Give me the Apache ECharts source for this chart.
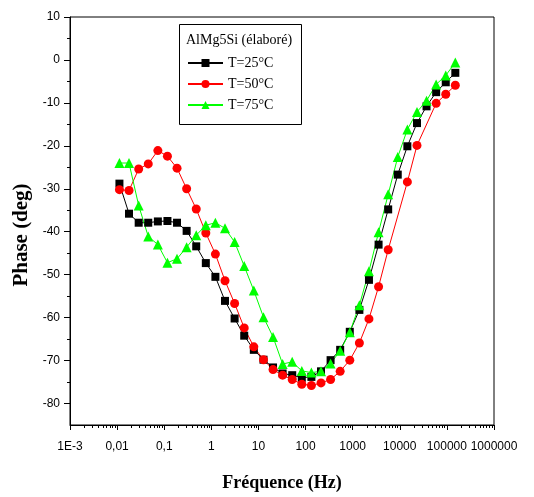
<!DOCTYPE html>
<html>
<head>
<meta charset="utf-8">
<script src="https://cdn.jsdelivr.net/npm/echarts@6/dist/echarts.min.js"></script>
<style>
html,body{margin:0;padding:0;background:#fff;}
#chart{width:534px;height:497px;}
</style>
</head>
<body>
<div id="chart"></div>
<script>
// Frequencies (Hz)
const freqs = [0.0112, 0.0179, 0.0287, 0.0458, 0.0733, 0.117, 0.187, 0.299, 0.478, 0.764,
  1.22, 1.95, 3.12, 4.99, 7.98, 12.8, 20.4, 32.6, 52.1, 83.2,
  133, 213, 340, 543, 869, 1389, 2218, 3548, 5675, 9057,
  14488, 23174, 36983, 59156, 94624, 151008];

// Phase (deg)
const phase25 = [-28.8, -35.8, -37.9, -37.9, -37.6, -37.5, -37.9, -39.8, -43.4, -47.3,
  -50.5, -56.1, -60.2, -64.2, -67.5, -69.8, -71.6, -73.0, -73.4, -74.0,
  -73.8, -72.5, -69.9, -67.5, -63.3, -58.2, -51.2, -43.0, -34.8, -26.7,
  -20.1, -14.7, -10.8, -7.5, -5.2, -3.0];
const phase50 = [-30.2, -30.4, -25.4, -24.2, -21.1, -22.4, -25.2, -30.0, -34.7, -40.3,
  -45.2, -51.4, -56.7, -62.4, -66.8, -69.8, -72.1, -73.4, -74.4, -75.5,
  -75.8, -75.2, -74.4, -72.5, -69.9, -65.9, -60.3, -52.8, -44.2, null,
  -28.4, -19.9, null, -10.1, -8.0, -5.9];
const phase75 = [-24.0, -24.0, -33.9, -41.1, -43.0, -47.2, -46.3, -43.6, -40.8, -38.5,
  -37.9, -39.2, -42.4, -48.0, -53.7, -59.9, -64.5, -70.8, -70.3, -72.4,
  -72.8, -72.5, -70.7, -67.7, -63.4, -57.1, -49.2, -40.1, -31.3, -22.6,
  -16.2, -12.1, -9.5, -5.7, -3.6, -0.6];

const seriesNames = ['T=25°C', 'T=50°C', 'T=75°C'];
const legendTitle = 'AlMg5Si (élaboré)';

// Tick values and labels
const xMajorTicks = [0.001, 0.01, 0.1, 1, 10, 100, 1000, 10000, 100000, 1000000];
const xTickLabels = ['1E-3', '0,01', '0,1', '1', '10', '100', '1000', '10000', '100000', '1000000'];
const xMinorTicks = [];
for (let d = 0; d < xMajorTicks.length - 1; d++) {
  for (let m = 2; m <= 9; m++) xMinorTicks.push(+(xMajorTicks[d] * m).toPrecision(6));
}
const yMajorTicks = [-80, -70, -60, -50, -40, -30, -20, -10, 0, 10];
const yMinorTicks = [-75, -65, -55, -45, -35, -25, -15, -5, 5];

function pairs(vals) {
  return freqs.map((f, i) => [f, vals[i]]);
}
function xLabel(v) {
  let best = 0, bd = Infinity;
  xMajorTicks.forEach((t, i) => {
    const d = Math.abs(Math.log10(t) - Math.log10(v));
    if (d < bd) { bd = d; best = i; }
  });
  return xTickLabels[best];
}

const chart = echarts.init(document.getElementById('chart'), null, {renderer: 'canvas'});
const black = '#000';
const option = {
  backgroundColor: '#fff',
  animation: false,
  grid: {left: 70, right: 40, top: 17, bottom: 68, show: true, borderColor: black, borderWidth: 1, backgroundColor: 'transparent'},
  xAxis: [
    {
      type: 'log', logBase: 10, min: 0.001, max: 1000000, position: 'bottom',
      axisLine: {show: true, onZero: false, lineStyle: {color: black, width: 1}},
      axisTick: {show: true, length: 5, customValues: xMajorTicks, lineStyle: {color: black, width: 1}},
      axisLabel: {show: true, customValues: xMajorTicks, formatter: xLabel, margin: 16,
        fontFamily: 'Liberation Sans', fontSize: 12, color: black},
      splitLine: {show: false}, minorTick: {show: false},
      name: 'Fréquence (Hz)', nameLocation: 'middle', nameGap: 49,
      nameTextStyle: {fontFamily: 'Liberation Serif', fontWeight: 'bold', fontSize: 18, color: black}
    },
    {
      type: 'log', logBase: 10, min: 0.001, max: 1000000, position: 'bottom',
      axisLine: {show: false, onZero: false},
      axisTick: {show: true, length: 3, customValues: xMinorTicks, lineStyle: {color: black, width: 1}},
      axisLabel: {show: false}, splitLine: {show: false}
    }
  ],
  yAxis: [
    {
      type: 'value', min: -85, max: 10, position: 'left',
      axisLine: {show: true, onZero: false, lineStyle: {color: black, width: 1}},
      axisTick: {show: true, length: 6, customValues: yMajorTicks, lineStyle: {color: black, width: 1}},
      axisLabel: {show: true, customValues: yMajorTicks, margin: 10,
        fontFamily: 'Liberation Sans', fontSize: 12, color: black},
      splitLine: {show: false},
      name: 'Phase (deg)', nameLocation: 'middle', nameGap: 38,
      nameTextStyle: {fontFamily: 'Liberation Serif', fontWeight: 'bold', fontSize: 21, color: black,
        padding: [0, 28, 0, 0]}
    },
    {
      type: 'value', min: -85, max: 10, position: 'left',
      axisLine: {show: false, onZero: false},
      axisTick: {show: true, length: 3, customValues: yMinorTicks, lineStyle: {color: black, width: 1}},
      axisLabel: {show: false}, splitLine: {show: false}
    }
  ],
  legend: {
    orient: 'vertical', left: 187, top: 56, padding: 0, itemWidth: 35, itemHeight: 10, itemGap: 7,
    textStyle: {fontFamily: 'Liberation Serif', fontSize: 14, color: black},
    data: seriesNames
  },
  graphic: [
    {type: 'rect', left: 177, top: 22, shape: {width: 122, height: 100}, style: {fill: 'none', stroke: black, lineWidth: 1}, z: 10},
    {type: 'text', left: 186, top: 33, style: {text: legendTitle, font: '14px "Liberation Serif"', fill: black}, z: 10}
  ],
  series: [
    {name: seriesNames[0], type: 'line', data: pairs(phase25), symbol: 'rect', symbolSize: 8,
      itemStyle: {color: '#000'}, lineStyle: {color: '#000', width: 1}, connectNulls: true},
    {name: seriesNames[1], type: 'line', data: pairs(phase50), symbol: 'circle', symbolSize: 9,
      itemStyle: {color: '#ff0000'}, lineStyle: {color: '#ff0000', width: 1}, connectNulls: true},
    {name: seriesNames[2], type: 'line', data: pairs(phase75), symbol: 'triangle', symbolSize: 10,
      itemStyle: {color: '#00ff00'}, lineStyle: {color: '#00ff00', width: 1}, connectNulls: true}
  ]
};
chart.setOption(option);
</script>
</body>
</html>
